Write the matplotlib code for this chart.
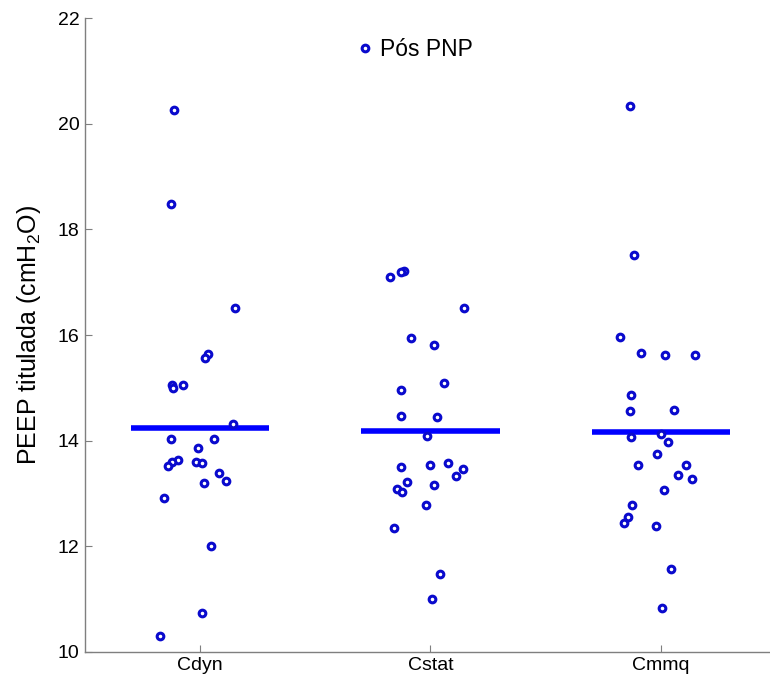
import matplotlib
matplotlib.use("Agg")
import matplotlib.pyplot as plt
import numpy as np

plt.rcParams['font.family'] = ['Liberation Sans', 'DejaVu Sans']
plt.rcParams['mathtext.fontset'] = 'custom'
plt.rcParams['mathtext.rm'] = 'Liberation Sans'
plt.rcParams['mathtext.it'] = 'Liberation Sans:italic'
plt.rcParams['mathtext.default'] = 'regular'

categories = ["Cdyn", "Cstat", "Cmmq"]

cdyn = [20.26, 18.49, 16.52, 15.64, 15.57, 15.05, 15.00, 15.06, 14.32, 14.03,
        14.03, 13.86, 13.63, 13.60, 13.51, 13.60, 13.58, 13.39, 13.24, 13.20,
        12.91, 12.00, 10.73, 10.29]
cdyn_jitter = [-0.113, -0.126, 0.152, 0.036, 0.020, -0.124, -0.120, -0.076, 0.143, -0.127,
               0.061, -0.011, -0.095, -0.124, -0.140, -0.019, 0.006, 0.082, 0.114, 0.017,
               -0.156, 0.046, 0.009, -0.173]

cstat = [17.22, 17.20, 17.09, 16.51, 15.95, 15.82, 15.10, 14.95, 14.47, 14.45,
         14.09, 13.50, 13.54, 13.58, 13.47, 13.33, 13.21, 13.09, 13.02, 13.15,
         12.77, 12.35, 11.47, 10.99]
cstat_jitter = [-0.117, -0.127, -0.177, 0.147, -0.085, 0.017, 0.058, -0.130, -0.127, 0.030,
                -0.016, -0.130, 0.000, 0.078, 0.139, 0.111, -0.103, -0.146, -0.124, 0.014,
                -0.020, -0.160, 0.043, 0.006]

cmmq = [20.34, 17.52, 15.97, 15.65, 15.62, 15.63, 14.87, 14.56, 14.57, 14.06,
        14.12, 13.98, 13.75, 13.53, 13.54, 13.35, 13.27, 13.06, 12.78, 12.55,
        12.43, 12.38, 11.56, 10.83]
cmmq_jitter = [-0.132, -0.116, -0.176, -0.084, 0.016, 0.147, -0.129, -0.132, 0.056, -0.129,
               0.000, 0.029, -0.016, -0.101, 0.110, 0.075, 0.137, 0.013, -0.126, -0.143,
               -0.160, -0.020, 0.043, 0.006]

groups = [cdyn, cstat, cmmq]
jitters = [cdyn_jitter, cstat_jitter, cmmq_jitter]
yticks = [10, 12, 14, 16, 18, 20, 22]
legend_label = "Pós PNP"
ylabel = "PEEP titulada (cmH$_2$O)"

fig = plt.figure(figsize=(7.70, 6.83), dpi=100)
ax = fig.add_axes([85/770, (683-651.7)/683, (770-85)/770, (651.7-18.3)/683])

marker_color = "#0a0acd"
line_color = "#0000ff"

for i, (vals, jit) in enumerate(zip(groups, jitters)):
    pos = i + 1
    xs = pos + np.array(jit)
    ax.plot(xs, vals, linestyle='none', marker='o', markersize=4.8,
            markerfacecolor='white', markeredgecolor=marker_color, markeredgewidth=2.2,
            label=legend_label if i == 0 else None, zorder=3)
    m = np.mean(vals)
    ax.plot([pos - 0.3, pos + 0.3], [m, m], color=line_color, linewidth=4.0,
            solid_capstyle='butt', zorder=2)

ax.set_xlim(0.5, 3.474)
ax.set_ylim(10, 22)
ax.set_xticks([1, 2, 3])
ax.set_xticklabels(categories)
ax.set_yticks(yticks)
ax.set_yticklabels([str(t) for t in yticks])

for s in ['top', 'right']:
    ax.spines[s].set_visible(False)
for s in ['left', 'bottom']:
    ax.spines[s].set_color('#7f7f7f')
    ax.spines[s].set_linewidth(1.0)

ax.tick_params(axis='both', direction='in', length=5, width=0.8, color='#7f7f7f',
               labelsize=14, labelcolor='black', pad=4)
ax.set_ylabel(ylabel, fontsize=18)
ax.yaxis.set_label_coords(-0.062, 0.5)

leg = ax.legend(loc='center left', bbox_to_anchor=(0.395, 0.950), frameon=False,
                fontsize=16.5, handlelength=0.8, handletextpad=0.25, borderpad=0,
                borderaxespad=0)

fig.savefig("out.png", dpi=100)
